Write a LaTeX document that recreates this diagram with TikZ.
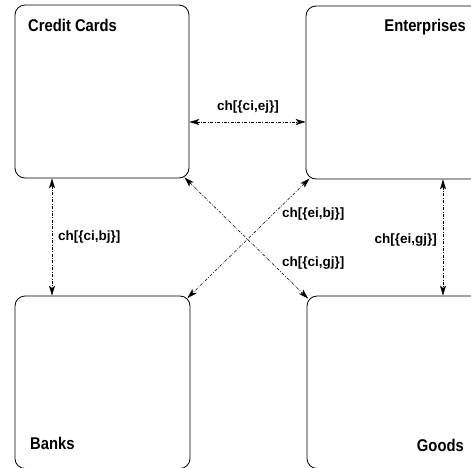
\documentclass[tikz,border=0pt]{standalone}
\usepackage{fontspec}
\setmainfont{Liberation Sans}
\usetikzlibrary{arrows.meta,calc}

\tikzset{
  box/.style={draw=black, line width=0.8pt, rounded corners=10pt,
    rectangle, inner sep=0pt, minimum width=#1},
  title/.style={inner sep=0pt, font=\fontsize{17}{17}\selectfont\bfseries},
  chlabel/.style={inner sep=0pt, font=\fontsize{13.5}{13.5}\selectfont\bfseries},
  channel/.style={line width=0.55pt, dash pattern=on 3pt off 1.5pt on 0.8pt off 1.5pt,
    {Stealth[length=10pt,width=6pt,inset=2.5pt]}-{Stealth[length=10pt,width=6pt,inset=2.5pt]}},
}
\newcommand{\narrow}[1]{\scalebox{0.87}[1]{#1}}

\begin{document}
\begin{tikzpicture}[x=1pt,y=-1pt]
  \useasboundingbox (0,0) rectangle (471,468);
  \clip (0,0) rectangle (471,468);

  % the four domains
  \node[box=174pt, minimum height=173pt] (cc) at (102,91.5) {};
  \node[box=184pt, minimum height=173pt] (ent) at (398,92.5) {};
  \node[box=175pt, minimum height=172.5pt] (bk) at (102.5,382.25) {};
  \node[box=183pt, minimum height=172.5pt] (gd) at (398.5,382.25) {};

  \node[title, anchor=base west] (ccT) at (28,31.5) {\narrow{Credit Cards}};
  \node[title, anchor=base east] (entT) at (466,32) {\narrow{Enterprises}};
  \node[title, anchor=base west] (bkT) at (30,449) {\narrow{Banks}};
  \node[title, anchor=base east] (gdT) at (464,451) {\narrow{Goods}};

  % channel end points
  \coordinate (hy) at (0,122);
  \coordinate (vl) at (52,0);
  \coordinate (vr) at (443,0);

  \draw[channel] (cc.east |- hy) -- (ent.west |- hy);
  \draw[channel] (cc.south -| vl) -- (bk.north -| vl);
  \draw[channel] (ent.south -| vr) -- (gd.north -| vr);
  \draw[channel] ($(cc.south east)+(-5,-1)$) -- ($(gd.north west)+(1.5,3)$);
  \draw[channel] ($(ent.north west |- ent.south)+(4,-1)$) -- ($(bk.north east)+(-3,2.5)$);

  % channel labels
  \node[chlabel, anchor=base] (lce) at (248,110.5) {ch[\{ci,ej\}]};
  \node[chlabel, anchor=base west] (lcb) at (58,240.5) {ch[\{ci,bj\}]};
  \node[chlabel, anchor=base west] (leb) at (282,217) {ch[\{ei,bj\}]};
  \node[chlabel, anchor=base east] (leg) at (437,243) {ch[\{ei,gj\}]};
  \node[chlabel, anchor=base west] (lcg) at (282,266) {ch[\{ci,gj\}]};
\end{tikzpicture}
\end{document}
